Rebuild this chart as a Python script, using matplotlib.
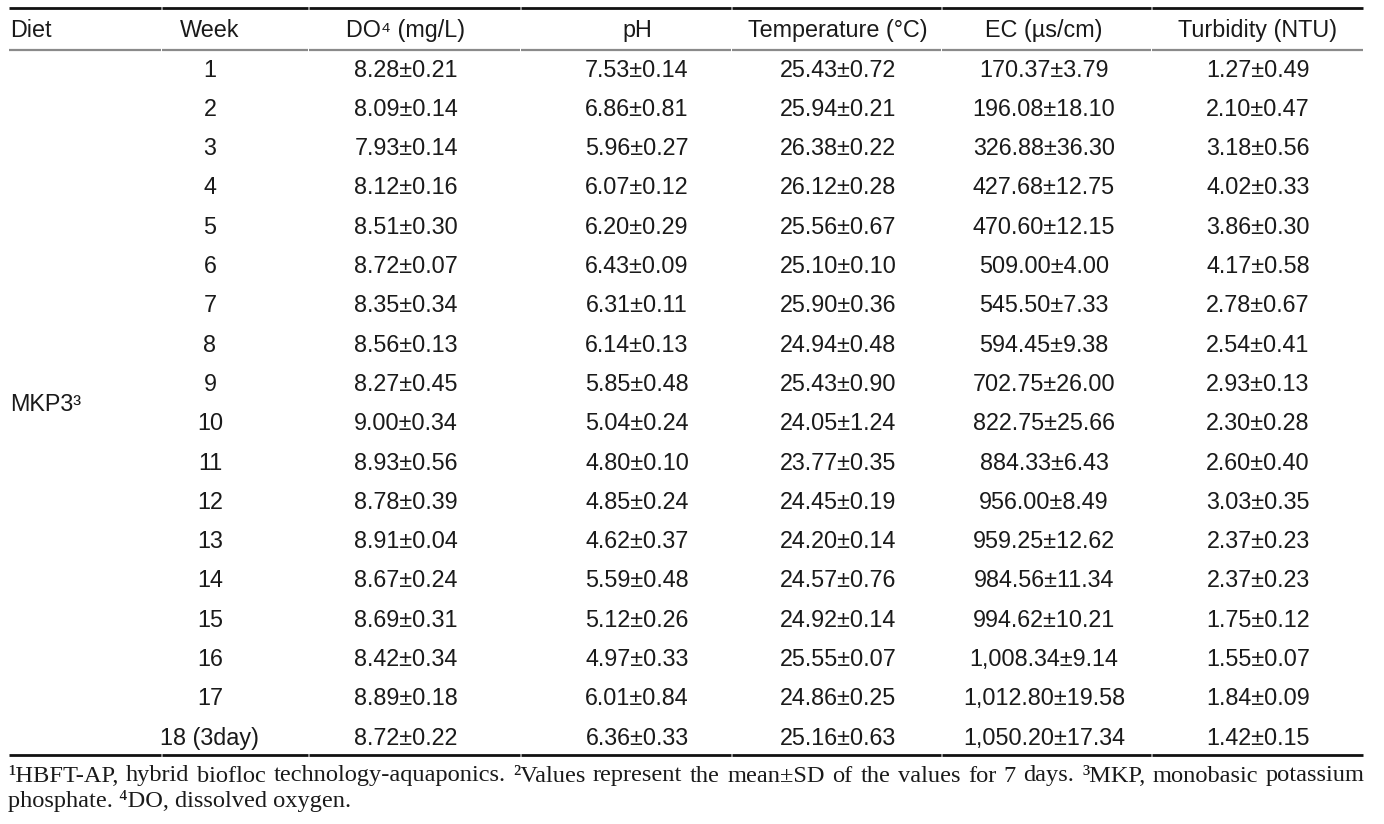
import matplotlib
matplotlib.use("Agg")
import matplotlib.pyplot as plt

# ---- data ----
headers = ["Diet", "Week", "DO\u2074 (mg/L)", "pH", "Temperature (\u00b0C)", "EC (\u00b5s/cm)", "Turbidity (NTU)"]
diet = "MKP3\u00b3"
weeks = ["1", "2", "3", "4", "5", "6", "7", "8", "9", "10", "11", "12", "13", "14", "15", "16", "17", "18 (3day)"]
do_vals = ["8.28\u00b10.21", "8.09\u00b10.14", "7.93\u00b10.14", "8.12\u00b10.16", "8.51\u00b10.30", "8.72\u00b10.07",
           "8.35\u00b10.34", "8.56\u00b10.13", "8.27\u00b10.45", "9.00\u00b10.34", "8.93\u00b10.56", "8.78\u00b10.39",
           "8.91\u00b10.04", "8.67\u00b10.24", "8.69\u00b10.31", "8.42\u00b10.34", "8.89\u00b10.18", "8.72\u00b10.22"]
ph_vals = ["7.53\u00b10.14", "6.86\u00b10.81", "5.96\u00b10.27", "6.07\u00b10.12", "6.20\u00b10.29", "6.43\u00b10.09",
           "6.31\u00b10.11", "6.14\u00b10.13", "5.85\u00b10.48", "5.04\u00b10.24", "4.80\u00b10.10", "4.85\u00b10.24",
           "4.62\u00b10.37", "5.59\u00b10.48", "5.12\u00b10.26", "4.97\u00b10.33", "6.01\u00b10.84", "6.36\u00b10.33"]
temp_vals = ["25.43\u00b10.72", "25.94\u00b10.21", "26.38\u00b10.22", "26.12\u00b10.28", "25.56\u00b10.67", "25.10\u00b10.10",
             "25.90\u00b10.36", "24.94\u00b10.48", "25.43\u00b10.90", "24.05\u00b11.24", "23.77\u00b10.35", "24.45\u00b10.19",
             "24.20\u00b10.14", "24.57\u00b10.76", "24.92\u00b10.14", "25.55\u00b10.07", "24.86\u00b10.25", "25.16\u00b10.63"]
ec_vals = ["170.37\u00b13.79", "196.08\u00b118.10", "326.88\u00b136.30", "427.68\u00b112.75", "470.60\u00b112.15",
           "509.00\u00b14.00", "545.50\u00b17.33", "594.45\u00b19.38", "702.75\u00b126.00", "822.75\u00b125.66",
           "884.33\u00b16.43", "956.00\u00b18.49", "959.25\u00b112.62", "984.56\u00b111.34", "994.62\u00b110.21",
           "1,008.34\u00b19.14", "1,012.80\u00b119.58", "1,050.20\u00b117.34"]
turb_vals = ["1.27\u00b10.49", "2.10\u00b10.47", "3.18\u00b10.56", "4.02\u00b10.33", "3.86\u00b10.30", "4.17\u00b10.58",
             "2.78\u00b10.67", "2.54\u00b10.41", "2.93\u00b10.13", "2.30\u00b10.28", "2.60\u00b10.40", "3.03\u00b10.35",
             "2.37\u00b10.23", "2.37\u00b10.23", "1.75\u00b10.12", "1.55\u00b10.07", "1.84\u00b10.09", "1.42\u00b10.15"]
footnote1 = ("\u00b9HBFT-AP, hybrid biofloc technology-aquaponics. \u00b2Values represent the mean\u00b1SD of the values "
             "for 7 days. \u00b3MKP, monobasic potassium")
footnote2 = "phosphate. \u2074DO, dissolved oxygen."

# ---- layout ----
W, H = 1384, 824
fig = plt.figure(figsize=(W / 100, H / 100), dpi=100)
ax = fig.add_axes([0, 0, 1, 1])
ax.set_xlim(0, W)
ax.set_ylim(H, 0)
ax.axis("off")

sans = ["Liberation Sans", "DejaVu Sans"]
serif = ["Liberation Serif", "DejaVu Serif"]
fs = 16.8
fs_note = 17.6
col_x = [10, 210, 406, 637, 838, 1044, 1258]
col_ha = ["left", "center", "center", "center", "center", "center", "center"]
txt_color = "#1a1a1a"

header_y = 30
row_y0 = 70
row_dy = 39.3

for x, ha, h in zip(col_x, col_ha, headers):
    ax.text(x, header_y, h, ha=ha, va="center", fontsize=fs, family=sans, color=txt_color)

columns = [weeks, do_vals, ph_vals, temp_vals, ec_vals, turb_vals]
for i in range(len(weeks)):
    y = row_y0 + i * row_dy
    for x, col in zip(col_x[1:], columns):
        ax.text(x, y, col[i], ha="center", va="center", fontsize=fs, family=sans, color=txt_color)

mid_y = row_y0 + (len(weeks) - 1) * row_dy / 2
ax.text(col_x[0], mid_y, diet, ha="left", va="center", fontsize=fs, family=sans, color=txt_color)

# rules, drawn as segments with tiny gaps at column boundaries
bounds = [8, 161, 308, 520, 731, 941, 1151, 1363]
def rule(y, color, lw):
    for a, b in zip(bounds[:-1], bounds[1:]):
        ax.plot([a + 0.5, b - 0.5], [y, y], color=color, lw=lw, solid_capstyle="butt")

rule(8, "#111111", 2.0)
rule(50, "#8a8a8a", 1.6)
rule(755, "#111111", 2.0)

# justified first footnote line
fig.canvas.draw()
renderer = fig.canvas.get_renderer()
words = footnote1.split(" ")
left, right = 8, 1365
objs = []
widths = []
for w in words:
    t = ax.text(0, 776, w, ha="left", va="center", fontsize=fs_note, family=serif, color=txt_color)
    bb = t.get_window_extent(renderer=renderer)
    objs.append(t)
    widths.append(bb.width)
gap = (right - left - sum(widths)) / (len(words) - 1)
x = left
for t, wd in zip(objs, widths):
    t.set_x(x)
    x += wd + gap

ax.text(8, 801, footnote2, ha="left", va="center", fontsize=fs_note, family=serif, color=txt_color)

fig.savefig("out.png", dpi=100, facecolor="white")
